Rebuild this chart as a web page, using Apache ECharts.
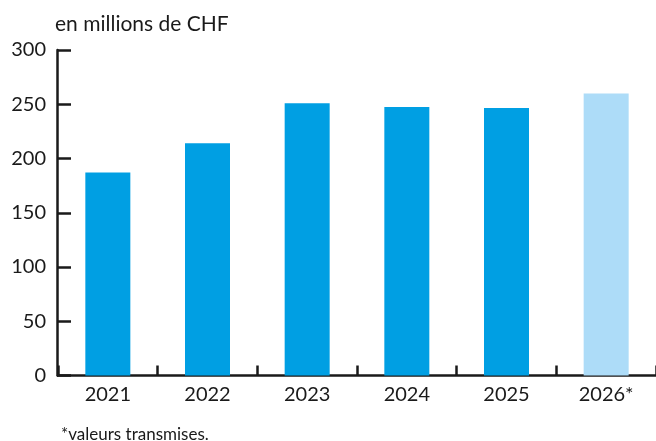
<!DOCTYPE html>
<html>
<head>
<meta charset="utf-8">
<script src="https://cdn.jsdelivr.net/npm/echarts@6/dist/echarts.min.js"></script>
<style>
  html, body { margin: 0; padding: 0; background: #fff; }
  #chart { width: 656px; height: 441px; }
</style>
</head>
<body>
<div id="chart"></div>
<script>
const years = ["2021", "2022", "2023", "2024", "2025", "2026*"];
const amounts = [187, 214, 251, 247.5, 246.5, 260];
const estimated = [false, false, false, false, false, true];
const yTicks = [0, 50, 100, 150, 200, 250, 300];

const font = "Lato";
const ink = "#1a1a1a";

let barData = [];
for (let i = 0; i < amounts.length; i++) {
  barData.push({
    value: amounts[i],
    itemStyle: { color: estimated[i] ? "#addcf8" : "#009fe3" }
  });
}

const chart = echarts.init(document.getElementById("chart"));
chart.setOption({
  animation: false,
  title: [
    {
      text: "en millions de CHF",
      left: 50,
      top: 9,
      textStyle: { fontFamily: font, fontSize: 21, fontWeight: "normal", color: ink }
    },
    {
      text: "*valeurs transmises.",
      left: 56,
      top: 421,
      textStyle: { fontFamily: font, fontSize: 17, fontWeight: "normal", color: ink }
    }
  ],
  grid: { left: 58, right: -3, top: 50, bottom: 65.5 },
  xAxis: {
    type: "category",
    data: years,
    axisLine: { lineStyle: { color: ink, width: 2.5 } },
    axisTick: { show: true, inside: true, length: 10, lineStyle: { color: ink, width: 2.5 } },
    axisLabel: { fontFamily: font, fontSize: 20, color: ink, margin: 9 }
  },
  yAxis: {
    type: "value",
    min: 0,
    max: 300,
    interval: 50,
    offset: 1,
    axisLine: { show: true, lineStyle: { color: ink, width: 2.5 } },
    axisTick: { show: true, inside: true, length: 14, lineStyle: { color: ink, width: 2.5 } },
    splitLine: { show: false },
    axisLabel: {
      fontFamily: font,
      fontSize: 20,
      color: ink,
      margin: 11,
      customValues: yTicks
    }
  },
  series: [
    {
      type: "bar",
      data: barData,
      barWidth: 45
    }
  ]
});
</script>
</body>
</html>
